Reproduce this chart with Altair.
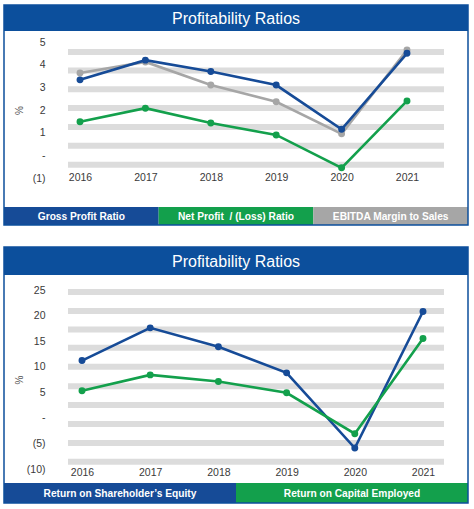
import altair as alt
import pandas as pd

# ---- data -----------------------------------------------------------------
years = ["2016", "2017", "2018", "2019", "2020", "2021"]

top_title = "Profitability Ratios"
top_series = ["Gross Profit Ratio", "Net Profit\u00a0 / (Loss) Ratio", "EBITDA Margin to Sales"]
gross_profit = [3.33, 4.20, 3.70, 3.10, 1.15, 4.50]
net_profit = [1.48, 2.08, 1.43, 0.90, -0.55, 2.40]
ebitda_margin = [3.63, 4.12, 3.10, 2.36, 0.95, 4.65]
top_ticks = [-1, 0, 1, 2, 3, 4, 5]
top_bands = [4.56, 3.74, 2.92, 2.09, 1.25, 0.42, -0.42]

bottom_title = "Profitability Ratios"
bottom_series = ["Return on Shareholder\u2019s Equity", "Return on Capital Employed"]
return_on_equity = [11.2, 17.6, 13.9, 8.8, -5.9, 20.8]
return_on_capital = [5.3, 8.4, 7.1, 4.9, -3.1, 15.5]
bottom_ticks = [-10, -5, 0, 5, 10, 15, 20, 25]
bottom_bands = [24.6, 20.9, 17.3, 13.7, 10.0, 6.2, 2.5, -1.2, -4.9, -8.6]

# ---- styling ----------------------------------------------------------------
BLUE = "#0c4f9c"
LINE_BLUE = "#164b97"
GREEN = "#13a04c"
GREY = "#a6a6a6"
BAND = "#dcdcdc"
LABEL = "#3a3a3a"
FONT = "Liberation Sans"

PLOT_W = 376
FRAME_L, FRAME_R = -64, 400  # frame edges relative to the plot area

ACCOUNTING = (
    "datum.value == 0 ? '-' : datum.value < 0 ? "
    "'(' + format(-datum.value, 'd') + ')' : format(datum.value, 'd')"
)


def panel(title, series, values, colors, ticks, bands, height, x_range,
          title_top, title_bottom, legend_top, legend_bottom, x_label_pad):
    rows = []
    for name, vals in zip(series, values):
        for yr, v in zip(years, vals):
            rows.append({"year": yr, "series": name, "value": v})
    df = pd.DataFrame(rows)

    color_scale = alt.Scale(domain=series, range=colors)
    y_scale = alt.Scale(domain=[ticks[0], ticks[-1]], nice=False, zero=False)
    y_axis = alt.Axis(
        values=ticks, labelExpr=ACCOUNTING, title="%", grid=False, domain=False,
        ticks=False, labelPadding=23, labelFont=FONT, labelFontSize=10.5,
        labelColor=LABEL, labelAlign="right", titleFont=FONT, titleFontSize=10,
        titleFontWeight="normal", titleColor="#555555", titleX=-49,
        titleY=height / 2, titleAngle=270, titleAlign="center",
        titleBaseline="middle",
    )
    x_enc = alt.X(
        "year:O",
        scale=alt.Scale(type="point", domain=years, range=x_range, padding=0),
        axis=alt.Axis(title=None, labelAngle=0, domain=False, ticks=False,
                      grid=False, labelPadding=x_label_pad,
                      labelBaseline="middle", labelFont=FONT,
                      labelFontSize=10.5, labelColor=LABEL),
    )

    # horizontal grey bands behind the lines
    band_layer = alt.Chart(pd.DataFrame({"value": bands})).mark_rule(
        color=BAND, strokeWidth=6
    ).encode(
        y=alt.Y("value:Q", scale=y_scale, axis=y_axis),
        x=alt.value(0), x2=alt.value(PLOT_W),
    )

    layers = [band_layer]
    # draw order: grey series first, so the coloured lines sit on top
    order = list(range(len(series)))
    if len(series) == 3:
        order = [2, 0, 1]
    for i in order:
        sub = df[df["series"] == series[i]]
        layers.append(
            alt.Chart(sub).mark_line(
                strokeWidth=2.6,
                point=alt.OverlayMarkDef(filled=True, size=48, opacity=1),
            ).encode(
                x=x_enc,
                y=alt.Y("value:Q", scale=y_scale, axis=y_axis),
                color=alt.Color("series:N", scale=color_scale, legend=None),
            )
        )

    one = pd.DataFrame({"t": [title]})
    # title bar
    layers.append(
        alt.Chart(one).mark_rect(color=BLUE).encode(
            x=alt.value(FRAME_L), x2=alt.value(FRAME_R),
            y=alt.value(title_top), y2=alt.value(title_bottom),
        )
    )
    layers.append(
        alt.Chart(one).mark_text(
            color="white", font=FONT, fontSize=16, align="center",
            baseline="middle",
        ).encode(
            text="t:N",
            x=alt.value((FRAME_L + FRAME_R) / 2),
            y=alt.value((title_top + title_bottom) / 2 + 0.5),
        )
    )

    # legend strip: one coloured box per series
    n = len(series)
    step = (FRAME_R - FRAME_L) / n
    for i, name in enumerate(series):
        leg = pd.DataFrame({"series": [name]})
        x0 = FRAME_L + i * step
        layers.append(
            alt.Chart(leg).mark_rect().encode(
                x=alt.value(x0), x2=alt.value(x0 + step),
                y=alt.value(legend_top), y2=alt.value(legend_bottom),
                color=alt.Color("series:N", scale=color_scale, legend=None),
            )
        )
        layers.append(
            alt.Chart(leg).mark_text(
                color="white", font=FONT, fontSize=10.2, fontWeight="bold",
                align="center", baseline="middle",
            ).encode(
                text="series:N",
                x=alt.value(x0 + step / 2),
                y=alt.value((legend_top + legend_bottom) / 2 + 0.5),
            )
        )

    # outer frame
    layers.append(
        alt.Chart(one).mark_rect(
            filled=False, stroke=BLUE, strokeWidth=1.5
        ).encode(
            x=alt.value(FRAME_L), x2=alt.value(FRAME_R),
            y=alt.value(title_top), y2=alt.value(legend_bottom),
        )
    )

    return alt.layer(*layers).properties(width=PLOT_W, height=height)


top = panel(
    top_title, top_series, [gross_profit, net_profit, ebitda_margin],
    [LINE_BLUE, GREEN, GREY], top_ticks, top_bands, 136, [12, 339],
    -37, -11, 165, 183, -1,
)
bottom = panel(
    bottom_title, bottom_series, [return_on_equity, return_on_capital],
    [LINE_BLUE, GREEN], bottom_ticks, bottom_bands, 179, [14, 355],
    -43, -15, 193, 213, 3,
)

chart = alt.vconcat(top, bottom, spacing=20).properties(
    padding={"left": 3, "top": 4, "right": 0, "bottom": 0},
    background="white",
).configure_view(stroke=None)

chart.save("out.html", embed_options={"renderer": "svg", "actions": False})
